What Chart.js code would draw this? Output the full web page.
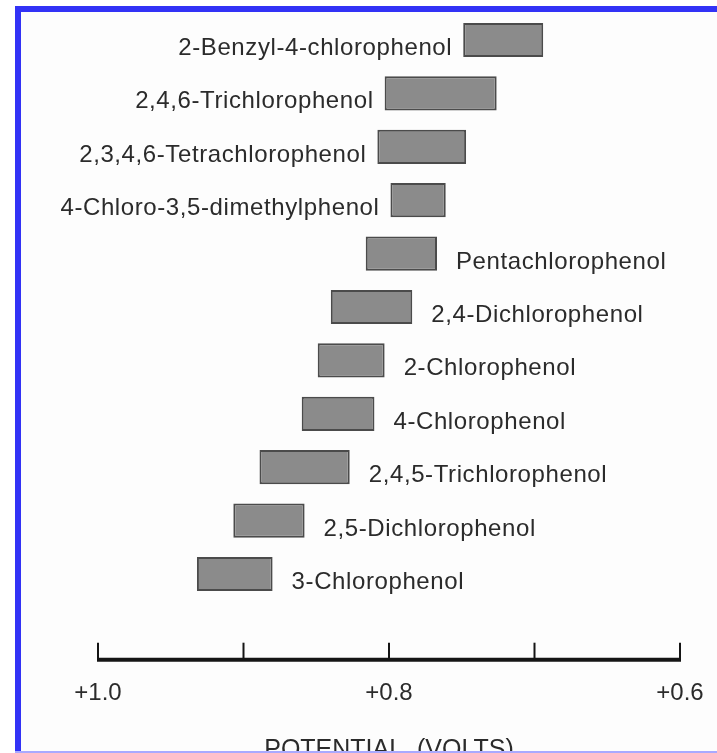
<!DOCTYPE html>
<html>
<head>
<meta charset="utf-8">
<script src="https://cdn.jsdelivr.net/npm/chart.js@4.4.0/dist/chart.umd.min.js"></script>
<style>
    html, body { margin: 0; padding: 0; background: #fff; }
    .frame { position: relative; width: 717px; height: 753px; overflow: hidden; background: #fff; }
    .panel {
        position: absolute; left: 15px; top: 6px; right: 0; bottom: 0;
        background: #fdfdfd;
        border-left: 6px solid #3232f6;
        border-top: 6px solid #3232f6;
    }
    .bottom-line { position: absolute; left: 15px; right: 0; bottom: 0; height: 2px; background: #a9a9ff; z-index: 2; }
    #potentialChart { position: absolute; left: 0; top: 0; z-index: 1; }
</style>
</head>
<body>
<div class="frame">
    <div class="panel"></div>
    <canvas id="potentialChart" width="717" height="753"></canvas>
    <div class="bottom-line"></div>
</div>
<script>
// Compounds, top to bottom
const compounds = [
    '2-Benzyl-4-chlorophenol',
    '2,4,6-Trichlorophenol',
    '2,3,4,6-Tetrachlorophenol',
    '4-Chloro-3,5-dimethylphenol',
    'Pentachlorophenol',
    '2,4-Dichlorophenol',
    '2-Chlorophenol',
    '4-Chlorophenol',
    '2,4,5-Trichlorophenol',
    '2,5-Dichlorophenol',
    '3-Chlorophenol'
];

// Potential range (volts) of each compound
const rangeHigh = [0.749, 0.803, 0.808, 0.799, 0.816, 0.840, 0.849, 0.860, 0.889, 0.907, 0.932];
const rangeLow  = [0.694, 0.726, 0.747, 0.761, 0.767, 0.784, 0.803, 0.810, 0.827, 0.858, 0.880];

// Axis ticks
const tickValues = [1.0, 0.9, 0.8, 0.7, 0.6];
const tickLabels = ['+1.0', '', '+0.8', '', '+0.6'];
const axisTitle = 'POTENTIAL  (VOLTS)';

const FONT = '"Liberation Sans", Arial, Helvetica, sans-serif';
const TEXT_COLOR = '#2b2b2b';
const leftLabelRows = 4; // first rows have their name left of the bar

// draws the potential axis: line, upward tick marks, labels and title
const axisPlugin = {
    id: 'potentialAxis',
    afterDraw(chart) {
        const ctx = chart.ctx;
        const scale = chart.scales.x;
        const axisY = chart.chartArea.bottom + 59;
        const xLeft = scale.getPixelForValue(scale.max);
        const xRight = scale.getPixelForValue(scale.min);
        ctx.save();
        ctx.strokeStyle = '#151515';
        ctx.lineWidth = 4;
        ctx.beginPath();
        ctx.moveTo(xLeft - 1, axisY);
        ctx.lineTo(xRight + 1, axisY);
        ctx.stroke();

        ctx.lineWidth = 2;
        ctx.fillStyle = TEXT_COLOR;
        ctx.font = '24px ' + FONT;
        ctx.textAlign = 'center';
        ctx.textBaseline = 'middle';
        scale.ticks.forEach(t => {
            const px = scale.getPixelForValue(t.value);
            ctx.beginPath();
            ctx.moveTo(px, axisY);
            ctx.lineTo(px, axisY - 17);
            ctx.stroke();
            const idx = tickValues.findIndex(v => Math.abs(v - t.value) < 1e-6);
            if (idx >= 0 && tickLabels[idx]) ctx.fillText(tickLabels[idx], px, axisY + 34);
        });

        ctx.font = '25px ' + FONT;
        ctx.fillText(axisTitle, (xLeft + xRight) / 2, axisY + 90);
        ctx.restore();
    }
};

// compound names next to their bars
const namePlugin = {
    id: 'compoundNames',
    afterDatasetsDraw(chart) {
        const ctx = chart.ctx;
        const meta = chart.getDatasetMeta(0);
        ctx.save();
        ctx.font = '24px ' + FONT;
        ctx.fillStyle = TEXT_COLOR;
        ctx.textBaseline = 'alphabetic';
        if ('letterSpacing' in ctx) ctx.letterSpacing = '0.6px';
        meta.data.forEach((bar, i) => {
            const p = bar.getProps(['x', 'base', 'y'], true);
            const left = Math.min(p.x, p.base);
            const right = Math.max(p.x, p.base);
            if (i < leftLabelRows) {
                ctx.textAlign = 'right';
                ctx.fillText(compounds[i], left - 11, p.y + 15);
            } else {
                ctx.textAlign = 'left';
                ctx.fillText(compounds[i], right + 19, p.y + 15);
            }
        });
        ctx.restore();
    }
};

const ctx = document.getElementById('potentialChart').getContext('2d');
new Chart(ctx, {
    type: 'bar',
    data: {
        labels: compounds,
        datasets: [{
            data: compounds.map((c, i) => [rangeHigh[i], rangeLow[i]]),
            backgroundColor: '#8b8b8b',
            borderColor: '#4b4b4b',
            borderWidth: 2,
            borderSkipped: false,
            barPercentage: 0.64,
            categoryPercentage: 1
        }]
    },
    options: {
        indexAxis: 'y',
        responsive: false,
        animation: false,
        layout: { padding: { left: 98, right: 37, top: 13.3, bottom: 152.3 } },
        plugins: {
            legend: { display: false },
            tooltip: { enabled: false }
        },
        scales: {
            y: { display: false },
            x: {
                type: 'linear',
                display: false,
                reverse: true,
                min: 0.6,
                max: 1.0,
                ticks: { stepSize: 0.1 }
            }
        }
    },
    plugins: [axisPlugin, namePlugin]
});
</script>
</body>
</html>
